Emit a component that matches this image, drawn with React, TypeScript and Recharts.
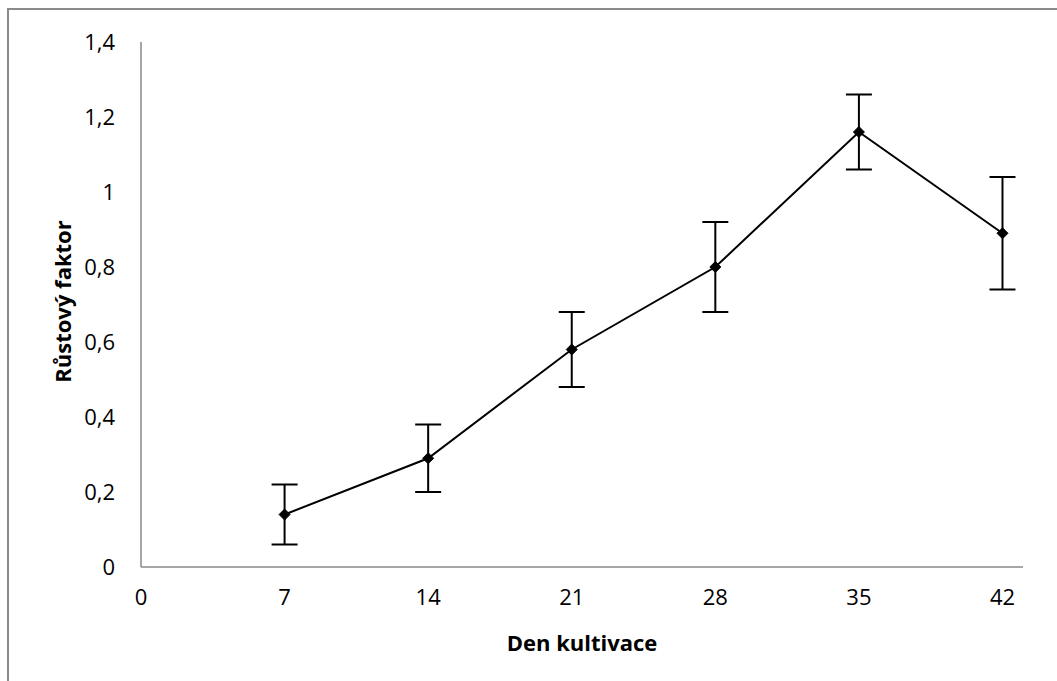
import React from 'react';
import { ComposedChart, Line, XAxis, YAxis, ErrorBar } from 'recharts';

const days = [7, 14, 21, 28, 35, 42];
const growth = [0.14, 0.29, 0.58, 0.8, 1.16, 0.89];
const errors = [0.08, 0.09, 0.1, 0.12, 0.1, 0.15];
const xTicks = [0, 7, 14, 21, 28, 35, 42];
const yTicks = [0, 0.2, 0.4, 0.6, 0.8, 1, 1.2, 1.4];

const data = days.map((d, i) => ({ day: d, value: growth[i], err: errors[i] }));

const fmtY = (v: number) => (Number.isInteger(v) ? String(v) : v.toFixed(1).replace('.', ','));

const FONT = '"Open Sans", "Noto Sans", sans-serif';

const Diamond = (props: any) => {
  const { cx, cy } = props;
  if (cx == null || cy == null) return null;
  const r = 5.5;
  return <polygon points={`${cx},${cy - r} ${cx + r},${cy} ${cx},${cy + r} ${cx - r},${cy}`} fill="#000" stroke="#000" strokeWidth={1} />;
};

const YTitle = (props: any) => {
  const vb = props.viewBox || {};
  const x = vb.x - 19;
  const y = vb.y + vb.height / 2 - 3;
  return (
    <text x={x} y={y} transform={`rotate(-90, ${x}, ${y})`} textAnchor="middle" dominantBaseline="central"
      fontFamily={FONT} fontWeight={700} fontSize={22} fill="#000">Růstový faktor</text>
  );
};

const XTitle = (props: any) => {
  const vb = props.viewBox || {};
  const x = vb.x + vb.width / 2;
  return (
    <text x={x} y={642} textAnchor="middle" dominantBaseline="central"
      fontFamily={FONT} fontWeight={700} fontSize={22} fill="#000">Den kultivace</text>
  );
};

export default function App() {
  return (
    <div style={{ position: 'absolute', left: 0, top: 0, width: 1057, height: 681, background: '#fff' }}>
      <div style={{ position: 'absolute', left: 7, top: 8, width: 1060, height: 690, border: '2px solid #8a8a8a', boxSizing: 'border-box' }} />
      <div style={{ position: 'absolute', left: 0, top: 0 }}>
        <ComposedChart width={1057} height={681} data={data} margin={{ top: 42, right: 34, bottom: 74, left: 81 }}>
          <XAxis dataKey="day" type="number" domain={[0, 43]} ticks={xTicks} interval={0}
            height={40} tickSize={0} tickMargin={22} axisLine={{ stroke: '#898989', strokeWidth: 1.5 }}
            tick={{ fill: '#000', fontSize: 22, fontFamily: FONT }} label={<XTitle />} />
          <YAxis type="number" domain={[0, 1.4]} ticks={yTicks} interval={0} tickFormatter={fmtY}
            width={60} tickSize={0} tickMargin={26} axisLine={{ stroke: '#898989', strokeWidth: 1.5 }}
            tick={{ fill: '#000', fontSize: 22, fontFamily: FONT }} label={<YTitle />} />
          <Line dataKey="value" stroke="#000" strokeWidth={2} dot={<Diamond />} activeDot={false}
            isAnimationActive={false}>
            <ErrorBar dataKey="err" width={13} stroke="#000" strokeWidth={2} direction="y" />
          </Line>
        </ComposedChart>
      </div>
    </div>
  );
}
